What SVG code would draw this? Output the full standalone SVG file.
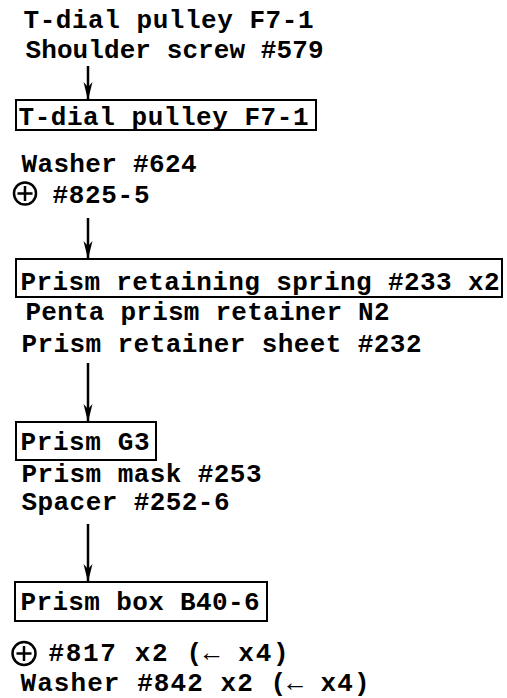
<svg xmlns="http://www.w3.org/2000/svg" width="507" height="698" viewBox="0 0 507 698">
<style>
text{font-family:"Liberation Mono","Courier New",monospace;font-weight:bold;font-size:26px;fill:#000}
.box{fill:none;stroke:#000;stroke-width:2}
.conn{stroke:#000;stroke-width:2.5;fill:none}
.sym{fill:none;stroke:#000;stroke-width:2.5}
</style>
<defs>
<marker id="ah" markerUnits="userSpaceOnUse" markerWidth="18" markerHeight="10" viewBox="0 -5 18 10" refX="17" refY="0" orient="auto">
<path d="M0,-4.5 L5,0 L0,4.5 L18,0 z" fill="#000"/>
</marker>
</defs>
<rect width="507" height="698" fill="#fff"/>
<g id="parts1">
<text x="23.5" y="28" textLength="290" lengthAdjust="spacing">T-dial pulley F7-1</text>
<text x="25.5" y="58" textLength="298" lengthAdjust="spacing">Shoulder screw #579</text>
</g>
<g id="box1">
<rect class="box" x="16" y="100" width="300" height="30"/>
<text x="18.5" y="125" textLength="290" lengthAdjust="spacing">T-dial pulley F7-1</text>
</g>
<g id="parts2">
<text x="21.5" y="172" textLength="175" lengthAdjust="spacing">Washer #624</text>
<circle class="sym" cx="25" cy="193.5" r="11"/>
<path class="sym" d="M25,186 V201 M17.5,193.5 H32.5" stroke-width="3"/>
<text x="52.5" y="203" textLength="97" lengthAdjust="spacing">#825-5</text>
</g>
<g id="box2">
<rect class="box" x="16" y="259" width="486" height="38"/>
<text x="20.5" y="290" textLength="479" lengthAdjust="spacing">Prism retaining spring #233 x2</text>
</g>
<g id="parts3">
<text x="25.5" y="320" textLength="364" lengthAdjust="spacing">Penta prism retainer N2</text>
<text x="21.5" y="352" textLength="400" lengthAdjust="spacing">Prism retainer sheet #232</text>
</g>
<g id="box3">
<rect class="box" x="16" y="422" width="140" height="38"/>
<text x="20.5" y="450" textLength="129" lengthAdjust="spacing">Prism G3</text>
</g>
<g id="parts4">
<text x="21.5" y="482" textLength="240" lengthAdjust="spacing">Prism mask #253</text>
<text x="21.5" y="510" textLength="208" lengthAdjust="spacing">Spacer #252-6</text>
</g>
<g id="box4">
<rect class="box" x="15" y="582" width="252" height="39"/>
<text x="20.5" y="610" textLength="239" lengthAdjust="spacing">Prism box B40-6</text>
</g>
<g id="parts5">
<circle class="sym" cx="24" cy="653.5" r="11.5"/>
<path class="sym" d="M24,646 V661 M16.5,653.5 H31.5" stroke-width="3"/>
<text x="48.5" y="661" textLength="240" lengthAdjust="spacing">#817 x2 (← x4)</text>
<text x="20.5" y="691" textLength="349" lengthAdjust="spacing">Washer #842 x2 (← x4)</text>
</g>
<g id="connectors">
<path class="conn" d="M88,66 V99" marker-end="url(#ah)"/>
<path class="conn" d="M88,218 V258" marker-end="url(#ah)"/>
<path class="conn" d="M88,363 V421" marker-end="url(#ah)"/>
<path class="conn" d="M88,524 V581" marker-end="url(#ah)"/>
</g>
</svg>
